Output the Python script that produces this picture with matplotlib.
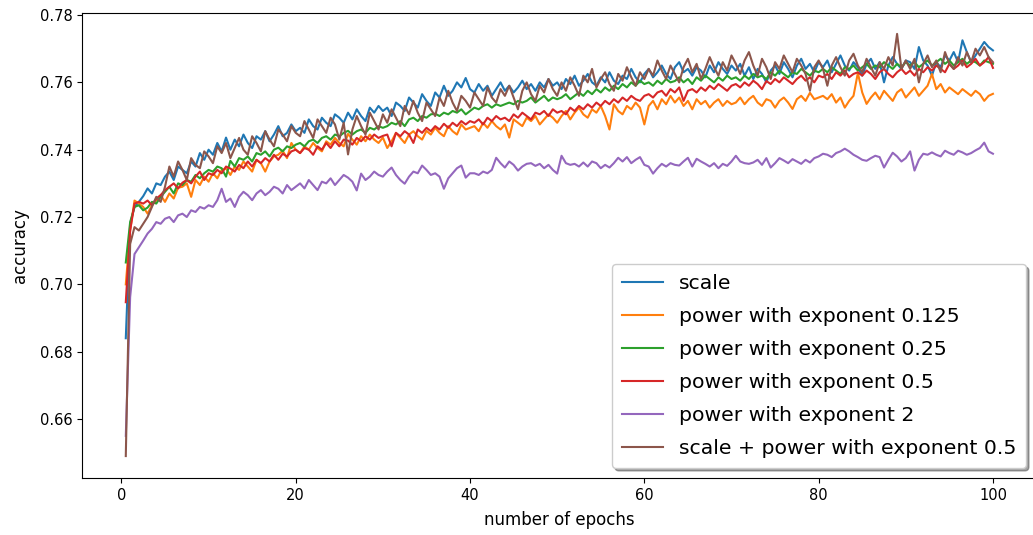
import numpy as np
import matplotlib
matplotlib.use("Agg")
import matplotlib.pyplot as plt

# epochs: 0.5 .. 100 in half-epoch steps
epochs = [0.5 * (i + 1) for i in range(200)]

# accuracy values in units of 1e-4
scale = [
    6840, 7180, 7230, 7245, 7262, 7285, 7270, 7300, 7295, 7320, 7335, 7310, 7350, 7340, 7330, 7365, 7350, 7390, 7370, 7400,
    7385, 7420, 7395, 7436, 7400, 7430, 7410, 7445, 7420, 7405, 7440, 7430, 7455, 7425, 7445, 7470, 7440, 7450, 7475, 7455,
    7465, 7450, 7490, 7470, 7460, 7495, 7480, 7470, 7505, 7495, 7480, 7510, 7490, 7520, 7500, 7485, 7525, 7510, 7530, 7515,
    7525, 7500, 7540, 7530, 7515, 7555, 7540, 7525, 7565, 7545, 7530, 7570, 7555, 7590, 7560, 7575, 7600, 7585, 7613, 7580,
    7570, 7595, 7575, 7590, 7560, 7580, 7600, 7575, 7590, 7570, 7585, 7605, 7580, 7595, 7575, 7600, 7585, 7610, 7590, 7600,
    7580, 7610, 7595, 7620, 7590, 7605, 7625, 7600, 7590, 7615, 7600, 7630, 7605, 7595, 7620, 7610, 7640, 7615, 7600, 7625,
    7640, 7615, 7630, 7650, 7625, 7610, 7645, 7660, 7630, 7640, 7620, 7645, 7635, 7615, 7650, 7630, 7660, 7640, 7625, 7650,
    7635, 7655, 7620, 7645, 7610, 7640, 7625, 7600, 7635, 7650, 7625, 7660, 7640, 7615, 7650, 7670, 7640, 7655, 7630, 7660,
    7645, 7665, 7630, 7655, 7680, 7650, 7635, 7660, 7645, 7620, 7655, 7670, 7640, 7660, 7600, 7650, 7675, 7655, 7640, 7665,
    7660, 7640, 7705, 7665, 7650, 7620, 7660, 7645, 7680, 7665, 7690, 7660, 7725, 7690, 7660, 7680, 7700, 7720, 7705, 7695,
]

power_0125 = [
    7000, 7160, 7249, 7240, 7230, 7210, 7235, 7250, 7265, 7245, 7270, 7255, 7287, 7290, 7300, 7260, 7310, 7295, 7320, 7305,
    7330, 7315, 7340, 7344, 7325, 7350, 7340, 7365, 7350, 7335, 7370, 7360, 7335, 7365, 7380, 7385, 7397, 7375, 7420, 7400,
    7390, 7410, 7400, 7420, 7405, 7395, 7425, 7415, 7435, 7420, 7410, 7447, 7430, 7415, 7440, 7425, 7445, 7430, 7420, 7436,
    7405, 7425, 7450, 7435, 7420, 7445, 7455, 7440, 7430, 7456, 7445, 7465, 7450, 7440, 7470, 7455, 7445, 7475, 7460, 7465,
    7470, 7455, 7480, 7465, 7485, 7470, 7460, 7475, 7436, 7490, 7480, 7470, 7495, 7485, 7500, 7475, 7490, 7505, 7495, 7480,
    7500, 7515, 7490, 7510, 7525, 7505, 7495, 7520, 7510, 7530, 7500, 7460, 7535, 7515, 7505, 7530, 7520, 7540, 7525, 7475,
    7530, 7545, 7520, 7550, 7535, 7560, 7540, 7555, 7530, 7545, 7520, 7550, 7535, 7545, 7525, 7540, 7550, 7530, 7545, 7535,
    7540, 7555, 7535, 7550, 7560, 7540, 7530, 7550, 7545, 7525, 7545, 7555, 7540, 7521, 7550, 7560, 7545, 7569, 7550, 7555,
    7560, 7550, 7565, 7540, 7555, 7525, 7545, 7560, 7628, 7570, 7536, 7555, 7570, 7550, 7575, 7560, 7545, 7570, 7580, 7555,
    7570, 7585, 7560, 7575, 7590, 7625, 7580, 7595, 7570, 7585, 7575, 7565, 7580, 7570, 7560, 7575, 7565, 7545, 7560, 7566,
]

power_025 = [
    7065, 7185, 7230, 7235, 7220, 7228, 7245, 7240, 7260, 7275, 7290, 7270, 7300, 7295, 7310, 7305, 7325, 7315, 7330, 7340,
    7335, 7350, 7345, 7320, 7367, 7350, 7375, 7370, 7380, 7365, 7390, 7385, 7395, 7380, 7400, 7406, 7395, 7410, 7405, 7415,
    7420, 7410, 7425, 7430, 7420, 7435, 7440, 7430, 7445, 7440, 7450, 7456, 7445, 7455, 7460, 7450, 7465, 7460, 7470, 7465,
    7470, 7480, 7475, 7485, 7470, 7490, 7495, 7485, 7500, 7495, 7505, 7507, 7500, 7510, 7505, 7515, 7510, 7520, 7505, 7515,
    7525, 7520, 7530, 7535, 7525, 7535, 7530, 7535, 7540, 7535, 7545, 7540, 7545, 7555, 7540, 7550, 7560, 7545, 7555, 7550,
    7555, 7565, 7550, 7560, 7570, 7560, 7575, 7565, 7580, 7570, 7585, 7575, 7590, 7580, 7595, 7585, 7600, 7590, 7605, 7595,
    7600, 7590, 7605, 7595, 7610, 7600, 7604, 7615, 7600, 7610, 7595, 7615, 7605, 7620, 7610, 7600, 7615, 7605, 7620, 7610,
    7615, 7605, 7620, 7610, 7625, 7615, 7620, 7610, 7630, 7620, 7635, 7625, 7615, 7630, 7625, 7640, 7630, 7620, 7635, 7630,
    7640, 7630, 7645, 7635, 7625, 7645, 7640, 7650, 7635, 7645, 7655, 7640, 7650, 7645, 7660, 7650, 7640, 7655, 7645, 7660,
    7650, 7660, 7645, 7655, 7665, 7650, 7660, 7670, 7655, 7665, 7650, 7660, 7670, 7655, 7665, 7660, 7650, 7665, 7660, 7655,
]

power_05 = [
    6947, 7160, 7240, 7245, 7240, 7249, 7235, 7255, 7265, 7280, 7290, 7300, 7285, 7302, 7310, 7300, 7320, 7335, 7310, 7330,
    7325, 7340, 7330, 7350, 7344, 7335, 7355, 7345, 7365, 7350, 7370, 7360, 7375, 7365, 7385, 7370, 7388, 7380, 7395, 7400,
    7390, 7405, 7400, 7385, 7410, 7400, 7420, 7405, 7425, 7410, 7430, 7427, 7415, 7435, 7425, 7440, 7430, 7445, 7435, 7441,
    7445, 7410, 7450, 7440, 7455, 7445, 7420, 7460, 7450, 7465, 7455, 7470, 7460, 7477, 7465, 7480, 7470, 7485, 7475, 7485,
    7480, 7490, 7475, 7495, 7485, 7500, 7490, 7495, 7485, 7505, 7495, 7510, 7500, 7490, 7510, 7505, 7515, 7500, 7520, 7510,
    7515, 7505, 7525, 7515, 7530, 7520, 7535, 7525, 7540, 7530, 7545, 7535, 7550, 7540, 7555, 7545, 7560, 7550, 7545, 7560,
    7565, 7555, 7570, 7575, 7560, 7580, 7570, 7585, 7545, 7575, 7580, 7570, 7585, 7575, 7590, 7580, 7595, 7585, 7575, 7590,
    7595, 7585, 7600, 7590, 7605, 7595, 7580, 7604, 7595, 7610, 7600, 7615, 7605, 7595, 7610, 7620, 7605, 7615, 7600, 7620,
    7615, 7625, 7610, 7630, 7620, 7635, 7615, 7625, 7630, 7620, 7635, 7625, 7610, 7630, 7640, 7625, 7615, 7630, 7640, 7625,
    7635, 7620, 7640, 7630, 7645, 7635, 7650, 7640, 7630, 7655, 7640, 7650, 7665, 7645, 7655, 7670, 7650, 7660, 7675, 7643,
]

power_2 = [
    6550, 6962, 7090, 7110, 7130, 7151, 7165, 7185, 7180, 7195, 7200, 7185, 7205, 7210, 7200, 7220, 7215, 7230, 7225, 7235,
    7230, 7250, 7284, 7245, 7255, 7230, 7260, 7275, 7265, 7250, 7270, 7280, 7265, 7275, 7290, 7284, 7270, 7295, 7280, 7290,
    7300, 7285, 7310, 7295, 7280, 7305, 7300, 7315, 7295, 7310, 7325, 7317, 7305, 7279, 7329, 7310, 7320, 7335, 7325, 7320,
    7335, 7347, 7325, 7310, 7299, 7320, 7335, 7330, 7353, 7340, 7325, 7330, 7320, 7284, 7315, 7330, 7345, 7353, 7317, 7330,
    7330, 7325, 7335, 7330, 7340, 7376, 7360, 7347, 7365, 7355, 7338, 7350, 7358, 7360, 7352, 7358, 7345, 7355, 7340, 7329,
    7382, 7360, 7355, 7358, 7350, 7362, 7350, 7365, 7360, 7345, 7355, 7347, 7360, 7376, 7365, 7378, 7360, 7370, 7378, 7355,
    7350, 7329, 7345, 7358, 7350, 7360, 7355, 7353, 7365, 7376, 7350, 7373, 7365, 7358, 7350, 7360, 7345, 7358, 7352, 7365,
    7382, 7365, 7360, 7358, 7362, 7370, 7355, 7375, 7347, 7360, 7375, 7368, 7360, 7372, 7365, 7358, 7370, 7362, 7375, 7380,
    7388, 7385, 7378, 7390, 7395, 7403, 7395, 7385, 7378, 7370, 7367, 7375, 7382, 7378, 7347, 7370, 7391, 7380, 7365, 7375,
    7395, 7338, 7370, 7388, 7385, 7392, 7385, 7380, 7397, 7390, 7385, 7397, 7392, 7385, 7390, 7398, 7405, 7421, 7395, 7388,
]

scale_power_05 = [
    6490, 7120, 7170, 7160, 7180, 7200, 7230, 7260, 7245, 7290, 7350, 7320, 7365, 7340, 7310, 7375, 7355, 7345, 7395, 7380,
    7360, 7410, 7390, 7420, 7375, 7405, 7435, 7400, 7385, 7440, 7420, 7395, 7455, 7430, 7410, 7460, 7445, 7425, 7470, 7450,
    7440, 7485, 7460, 7435, 7490, 7470, 7450, 7495, 7475, 7430, 7480, 7386, 7460, 7500, 7470, 7445, 7510, 7485, 7460, 7505,
    7480, 7520, 7495, 7470, 7530, 7505, 7545, 7510, 7485, 7540, 7520, 7500, 7555, 7530, 7575, 7540, 7515, 7560, 7545, 7525,
    7570, 7550, 7530, 7585, 7555, 7540, 7580, 7560, 7590, 7555, 7520, 7575, 7600, 7565, 7545, 7590, 7570, 7610, 7580, 7560,
    7600, 7575, 7615, 7590, 7560, 7620, 7600, 7640, 7585, 7610, 7630, 7595, 7575, 7625, 7605, 7645, 7615, 7590, 7630, 7610,
    7640, 7620, 7665, 7635, 7610, 7650, 7625, 7600, 7645, 7670, 7630, 7655, 7610, 7640, 7675, 7645, 7620, 7660, 7635, 7680,
    7655, 7625, 7665, 7690, 7650, 7620, 7670, 7645, 7610, 7660, 7640, 7680, 7655, 7630, 7670, 7650, 7625, 7575, 7645, 7665,
    7640, 7590, 7650, 7675, 7645, 7620, 7665, 7685, 7650, 7630, 7670, 7645, 7620, 7660, 7640, 7675, 7650, 7744, 7640, 7665,
    7640, 7670, 7600, 7655, 7680, 7645, 7665, 7630, 7690, 7655, 7640, 7675, 7650, 7690, 7660, 7700, 7680, 7705, 7675, 7660,
]

labels = [
    "scale",
    "power with exponent 0.125",
    "power with exponent 0.25",
    "power with exponent 0.5",
    "power with exponent 2",
    "scale + power with exponent 0.5",
]
series = [scale, power_0125, power_025, power_05, power_2, scale_power_05]

fig = plt.figure(figsize=(10.33, 5.35), dpi=100)
ax = fig.add_axes([0.0798, 0.1060, 0.9234, 0.8703])

x = np.array(epochs)
for vals, lab in zip(series, labels):
    ax.plot(x, np.array(vals) / 10000.0, label=lab, linewidth=1.5)

ax.set_xlim(-4.475, 104.975)
ax.set_ylim(0.6424, 0.7807)
ax.set_xticks([0, 20, 40, 60, 80, 100])
ax.set_yticks([0.66, 0.68, 0.70, 0.72, 0.74, 0.76, 0.78])
ax.tick_params(labelsize=10.5)
ax.set_xlabel("number of epochs", fontsize=12, labelpad=6)
ax.set_ylabel("accuracy", fontsize=12, labelpad=8)
ax.legend(loc="lower right", shadow=True, fontsize=14.7, labelspacing=0.68,
          handlelength=2.0, handletextpad=0.75, borderpad=0.5)

fig.savefig("out.png", dpi=100)
